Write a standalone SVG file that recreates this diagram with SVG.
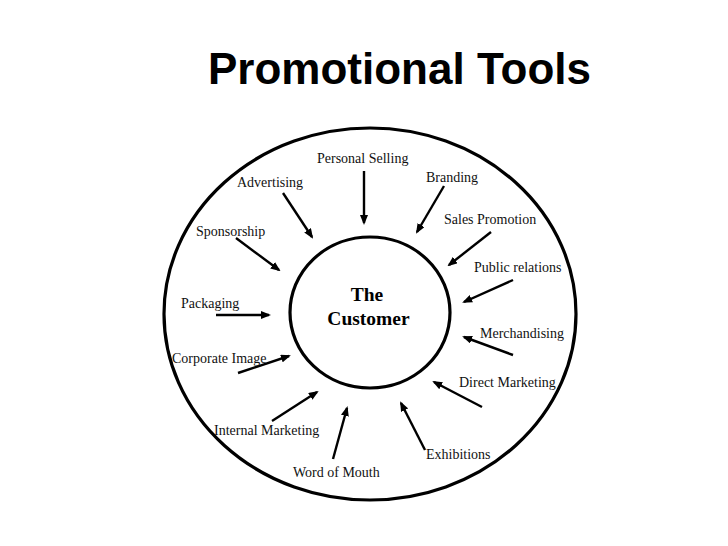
<svg xmlns="http://www.w3.org/2000/svg" width="728" height="546" viewBox="0 0 728 546">
<style>
.title{font-family:"Liberation Sans",Arial,sans-serif;font-weight:bold;font-size:44px;fill:#000}
.lbl{font-family:"Liberation Serif","Times New Roman",serif;font-size:14px;fill:#111}
.ctr{font-family:"Liberation Serif","Times New Roman",serif;font-size:19.5px;font-weight:bold;fill:#000;text-anchor:middle}
.ring{fill:none;stroke:#000;stroke-width:3.2}
.arr{stroke:#000;stroke-width:2.4;fill:none;marker-end:url(#ah)}
</style>
<defs>
<marker id="ah" viewBox="0 0 10 8" refX="8" refY="4" markerWidth="10" markerHeight="8" markerUnits="userSpaceOnUse" orient="auto">
<path d="M0,0 L10,4 L0,8 z" fill="#000"/>
</marker>
</defs>
<rect width="728" height="546" fill="#fff"/>
<text class="title" x="208" y="84">Promotional Tools</text>
<g id="outer"><ellipse class="ring" cx="370" cy="314" rx="206" ry="186"/></g>
<g id="customer">
<ellipse class="ring" cx="370" cy="312.5" rx="80" ry="75.5"/>
<text class="ctr" x="367" y="301">The</text>
<text class="ctr" x="368.5" y="325">Customer</text>
</g>
<g id="connectors">
<line class="arr" x1="283" y1="193" x2="312" y2="237"/>
<line class="arr" x1="364" y1="171" x2="364" y2="223"/>
<line class="arr" x1="444" y1="186" x2="417" y2="232"/>
<line class="arr" x1="236" y1="238" x2="279" y2="270"/>
<line class="arr" x1="491" y1="232" x2="449" y2="265"/>
<line class="arr" x1="513" y1="280" x2="464" y2="302"/>
<line class="arr" x1="216" y1="315" x2="269" y2="315"/>
<line class="arr" x1="513" y1="355" x2="464" y2="337"/>
<line class="arr" x1="238" y1="373" x2="289" y2="356"/>
<line class="arr" x1="482" y1="407" x2="434" y2="382"/>
<line class="arr" x1="272" y1="421" x2="317" y2="392"/>
<line class="arr" x1="333" y1="459" x2="347" y2="408"/>
<line class="arr" x1="425" y1="450" x2="401" y2="403"/>
</g>
<g id="personal-selling"><text class="lbl" x="317" y="163">Personal Selling</text></g>
<g id="advertising"><text class="lbl" x="237" y="187">Advertising</text></g>
<g id="branding"><text class="lbl" x="426" y="182">Branding</text></g>
<g id="sales-promotion"><text class="lbl" x="444" y="224">Sales Promotion</text></g>
<g id="sponsorship"><text class="lbl" x="196" y="236">Sponsorship</text></g>
<g id="public-relations"><text class="lbl" x="474" y="272">Public relations</text></g>
<g id="packaging"><text class="lbl" x="181" y="308">Packaging</text></g>
<g id="merchandising"><text class="lbl" x="480" y="338">Merchandising</text></g>
<g id="corporate-image"><text class="lbl" x="172" y="363">Corporate Image</text></g>
<g id="direct-marketing"><text class="lbl" x="459" y="387">Direct Marketing</text></g>
<g id="internal-marketing"><text class="lbl" x="214" y="435">Internal Marketing</text></g>
<g id="exhibitions"><text class="lbl" x="426" y="459">Exhibitions</text></g>
<g id="word-of-mouth"><text class="lbl" x="293" y="477">Word of Mouth</text></g>
</svg>
